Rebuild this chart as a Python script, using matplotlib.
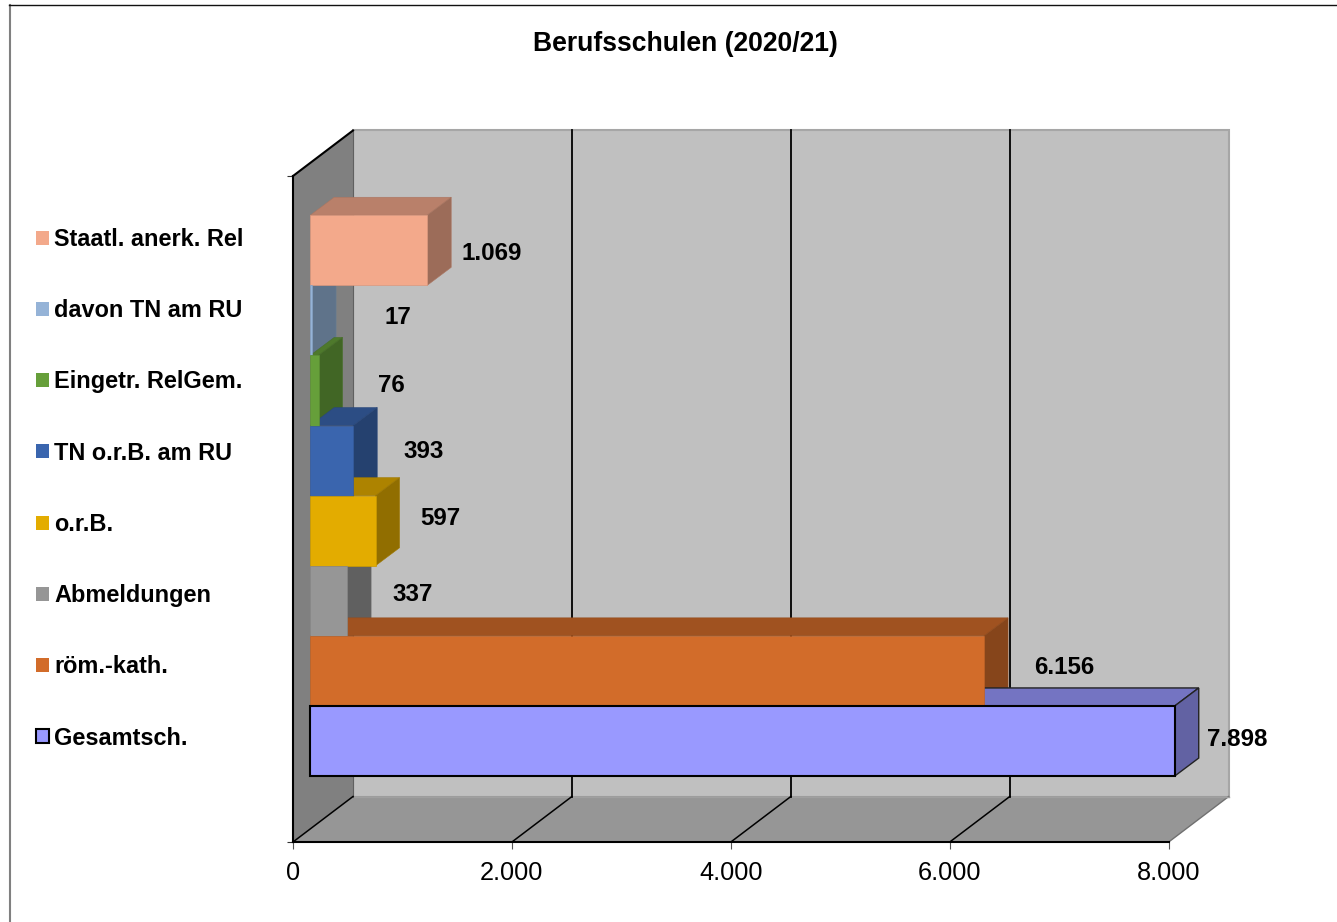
import matplotlib
matplotlib.use("Agg")
import matplotlib.pyplot as plt
from matplotlib.patches import Polygon, Patch
from matplotlib.lines import Line2D
from matplotlib.colors import to_rgb
from matplotlib.ticker import FuncFormatter

plt.rcParams['font.family'] = ['Liberation Sans', 'DejaVu Sans']

# von unten nach oben
categories = ["Gesamtsch.", "röm.-kath.", "Abmeldungen", "o.r.B.", "TN o.r.B. am RU",
              "Eingetr. RelGem.", "davon TN am RU", "Staatl. anerk. Rel"]
values = [7898, 6156, 337, 597, 393, 76, 17, 1069]
colors = ["#9999ff", "#d26c2a", "#969696", "#e3ac00", "#3a65ae", "#669f3a", "#95b3d7", "#f3a98b"]
xticks = [0, 2000, 4000, 6000, 8000]
title = "Berufsschulen (2020/21)"

# Versatz der Beschriftungen in Pixeln
label_dx = [63, 80, 66, 65, 70, 73, 86, 64]
label_dy = [1, 3, 6, 12, 9, 5, 3, -3]

W, H = 1337, 922
X0, X1 = 293, 1168.7   # Achse in Pixeln
Y_BOT, Y_TOP = 842, 176
SX = (X1 - X0) / 8000.0
SY = 70.1              # Pixel pro Kategorie
Y_CAT0 = 741           # Pixel der untersten Kategorie


def dx(px):
    return px / SX


def dy(px):
    return px / SY


def shade(col, f):
    r, g, b = to_rgb(col)
    return (r * f, g * f, b * f)


def fmt(v, pos=None):
    return f"{int(v):,}".replace(",", ".")


fig = plt.figure(figsize=(W / 100, H / 100), dpi=100)
ax = fig.add_axes([X0 / W, 1 - Y_BOT / H, (X1 - X0) / W, (Y_BOT - Y_TOP) / H])
ax.patch.set_visible(False)
ax.set_xlim(0, 8000)
ybot = (Y_CAT0 - Y_BOT) / SY
ytop = (Y_CAT0 - Y_TOP) / SY
ax.set_ylim(ybot, ytop)

wx, wy = dx(60), dy(45.5)     # Tiefe der Waende
bx, by = dx(24), dy(18)       # Tiefe der Balken
base = dx(17.2)


def poly(pts, fc, ec="none", lw=0.0, z=1):
    ax.add_patch(Polygon(pts, closed=True, facecolor=fc, edgecolor=ec, linewidth=lw,
                         zorder=z, clip_on=False, joinstyle="miter"))


# Rueckwand, Boden, linke Wand
poly([(wx, ybot + wy), (8000 + wx, ybot + wy), (8000 + wx, ytop + wy), (wx, ytop + wy)], "#c0c0c0", "#a6a6a6", 1.5)
poly([(0, ybot), (8000, ybot), (8000 + wx, ybot + wy), (wx, ybot + wy)], "#969696")
poly([(0, ybot), (wx, ybot + wy), (wx, ytop + wy), (0, ytop)], "#808080")
ax.plot([8000, 8000 + wx], [ybot, ybot + wy], color="#707070", lw=1, zorder=1.2, clip_on=False)
ax.plot([wx, 8000 + wx], [ybot + wy, ybot + wy], color="#a0a0a0", lw=1, zorder=1.2, clip_on=False)
ax.plot([0, wx], [ytop, ytop + wy], color="black", lw=1.5, zorder=1.5, clip_on=False)
ax.plot([wx, wx], [ybot + wy, ytop + wy], color="#606060", lw=0.8, zorder=1.2, clip_on=False)

# Gitterlinien
for t in xticks:
    if t == 8000:
        continue
    ax.plot([t, t + wx], [ybot, ybot + wy], color="black", lw=1.1, zorder=1.5, clip_on=False)
    if t > 0:
        ax.plot([t + wx, t + wx], [ybot + wy, ytop + wy], color="black", lw=1.3, zorder=1.5, clip_on=False)

# Deckel und Seiten von oben nach unten, die Vorderseiten liegen ueber allem
for i in range(len(values) - 1, -1, -1):
    v = values[i]
    c = colors[i]
    z = 3 + (len(values) - i) * 0.1
    end = base + v
    outlined = i == 0
    lw = 1.0 if outlined else 0.4
    e2 = "#222222" if outlined else shade(c, 0.7)
    poly([(base, i + 0.5), (end, i + 0.5), (end + bx, i + 0.5 + by), (base + bx, i + 0.5 + by)],
         shade(c, 0.76), e2, lw, z)
    poly([(end, i - 0.5), (end + bx, i - 0.5 + by), (end + bx, i + 0.5 + by), (end, i + 0.5)],
         shade(c, 0.64), e2, lw, z + 0.01)
    ax.barh(i, v, left=base, height=1.0, color=c, edgecolor="black" if outlined else shade(c, 0.9),
            linewidth=1.5 if outlined else 0.5, zorder=6 + (i == 0) * 0.5, clip_on=False)

for i, v in enumerate(values):
    ax.annotate(fmt(v), xy=(base + v, i), xytext=(label_dx[i], label_dy[i]), textcoords="offset pixels",
                ha="center", va="center", fontsize=17.4, fontweight="bold", color="black",
                zorder=10, annotation_clip=False)

# Achsen
for s in ("top", "right"):
    ax.spines[s].set_visible(False)
ax.spines["left"].set_linewidth(1.5)
ax.spines["bottom"].set_linewidth(1.5)
ax.set_xticks(xticks)
ax.xaxis.set_major_formatter(FuncFormatter(fmt))
ax.tick_params(axis="x", length=5, width=0.8, color="#555555", labelsize=18.3, pad=8.5)
ax.set_yticks([ybot, ytop])
ax.set_yticklabels([])
ax.tick_params(axis="y", length=4.5, width=0.8, color="#333333")

# Legende
handles = [Patch(facecolor=colors[i], edgecolor="black" if i == 0 else colors[i],
                 linewidth=1.5 if i == 0 else 0.0, label=categories[i])
           for i in range(len(values) - 1, -1, -1)]
fig.legend(handles=handles, loc="upper left", bbox_to_anchor=(36 / W, 1 - 228 / H),
           frameon=False, prop={"weight": "bold", "size": 16.9},
           handlelength=0.55, handleheight=0.55, handletextpad=0.22, labelspacing=2.055,
           borderpad=0, borderaxespad=0)

fig.text(685 / W, 1 - 44 / H, title, ha="center", va="center", fontsize=19.1, fontweight="bold")

# Rahmen
fig.add_artist(Line2D([9.5 / W, 9.5 / W], [0, 1 - 5.5 / H], color="#808080", lw=1.5))
fig.add_artist(Line2D([9 / W, 1], [1 - 5.5 / H, 1 - 5.5 / H], color="#111111", lw=1.0))

fig.savefig("out.png", dpi=100)
